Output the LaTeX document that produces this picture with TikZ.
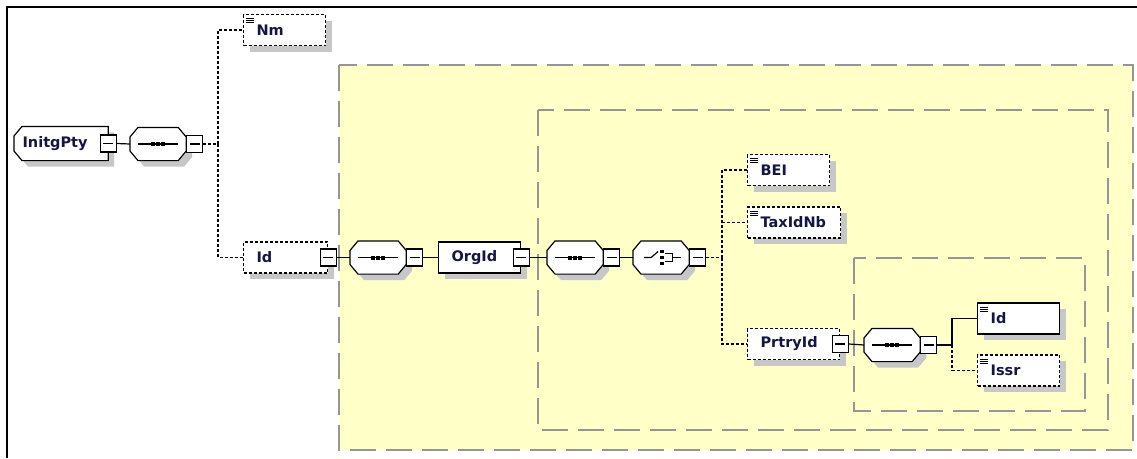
\documentclass[tikz,border=0pt]{standalone}
\usepackage{fontspec}
\setmainfont{DejaVu Sans}
\usepackage{tikz}
\usetikzlibrary{shadows}
\definecolor{schemafill}{RGB}{255,255,200}
\definecolor{groupline}{RGB}{150,150,150}
\definecolor{elemtext}{RGB}{20,20,70}

% box with cut corners (cut east=0pt keeps the east side square)
\pgfkeys{/pgf/cut west/.initial=8pt, /pgf/cut east/.initial=8pt}
\makeatletter
\pgfdeclareshape{cutbox}{%
	\inheritsavedanchors[from=rectangle]%
	\inheritanchorborder[from=rectangle]%
	\inheritanchor[from=rectangle]{center}%
	\inheritanchor[from=rectangle]{north}%
	\inheritanchor[from=rectangle]{south}%
	\inheritanchor[from=rectangle]{east}%
	\inheritanchor[from=rectangle]{west}%
	\inheritanchor[from=rectangle]{north east}%
	\inheritanchor[from=rectangle]{north west}%
	\inheritanchor[from=rectangle]{south east}%
	\inheritanchor[from=rectangle]{south west}%
	\inheritanchor[from=rectangle]{base}%
	\inheritanchor[from=rectangle]{mid}%
	\backgroundpath{%
		\southwest \edef\cbxa{\the\pgf@x}\edef\cbya{\the\pgf@y}%
		\northeast \edef\cbxb{\the\pgf@x}\edef\cbyb{\the\pgf@y}%
		\pgfmathsetmacro\cbw{\pgfkeysvalueof{/pgf/cut west}}%
		\pgfmathsetmacro\cbe{\pgfkeysvalueof{/pgf/cut east}}%
		\pgfpathmoveto{\pgfpoint{\cbxa+\cbw pt}{\cbya}}%
		\pgfpathlineto{\pgfpoint{\cbxb-\cbe pt}{\cbya}}%
		\pgfpathlineto{\pgfpoint{\cbxb}{\cbya+1.2*\cbe pt}}%
		\pgfpathlineto{\pgfpoint{\cbxb}{\cbyb-1.2*\cbe pt}}%
		\pgfpathlineto{\pgfpoint{\cbxb-\cbe pt}{\cbyb}}%
		\pgfpathlineto{\pgfpoint{\cbxa+\cbw pt}{\cbyb}}%
		\pgfpathlineto{\pgfpoint{\cbxa}{\cbyb-1.2*\cbw pt}}%
		\pgfpathlineto{\pgfpoint{\cbxa}{\cbya+1.2*\cbw pt}}%
		\pgfpathclose
	}%
}
\makeatother

\begin{document}
\begin{tikzpicture}[x=1pt,y=-1pt,line width=1.2pt,
	every node/.style={font=\bfseries\fontsize{14.5}{17}\selectfont, text=elemtext},
	shadowed/.style={drop shadow={shadow xshift=6pt,shadow yshift=-6pt,fill=black!22,opacity=1}},
	boxbase/.style={draw, fill=white, shadowed, rectangle, anchor=west, text width=#1,
		inner xsep=0pt, inner ysep=0pt, minimum height=31pt, align=left},
	elem/.style={boxbase=#1, execute at begin node=\hspace*{13pt}},
	root/.style={boxbase=#1, shape=cutbox, cut east=0pt, minimum height=33pt,
		execute at begin node=\hspace*{8pt}},
	opt/.style={dash pattern=on 3pt off 2pt},
	simple/.style={path picture={
		\foreach \dy in {4,6,8}
			\draw[solid,line width=0.8pt] ([shift={(2pt,-\dy pt)}]path picture bounding box.north west) -- ++(8pt,0pt);}},
	mbox/.style={draw, fill=white, minimum width=16pt, minimum height=17pt, inner sep=0pt,
		path picture={\draw ([xshift=3pt]path picture bounding box.west) -- ([xshift=-3pt]path picture bounding box.east);}},
	comp/.style={shape=cutbox, draw, fill=white, shadowed,
		minimum width=55pt, minimum height=32pt, inner sep=0pt, anchor=west},
	seqc/.style={comp, path picture={
		\begin{scope}[shift={(path picture bounding box.center)}]
			\draw (-20,0) -- (20,0);
			\foreach \d in {-5,0,5} \fill[black] (\d-2,-2) rectangle (\d+2,2);
		\end{scope}}},
	choicec/.style={comp, path picture={
		\begin{scope}[shift={(path picture bounding box.center)}]
			\draw (-17,0) -- (-10,0) -- (-3,-6);
			\foreach \v in {-6,0,6} \fill[black] (-1,\v-1.75) rectangle (2.5,\v+1.75);
			\draw (4,-4) -- (11,-4) -- (11,4) -- (4,4) (11,0) -- (20,0);
		\end{scope}}},
	grp/.style={draw=groupline, line width=1.5pt, dash pattern=on 26pt off 10pt}]

	\useasboundingbox (0,0) rectangle (1137,458);
	\draw[line width=2pt] (7,458) -- (7,7) -- (1137,7);

	% groups
	\draw[grp, fill=schemafill] (339,65) rectangle (1133,450);
	\draw[grp] (538,110) rectangle (1108,430);
	\draw[grp] (854,258) rectangle (1085,411);

	% root
	\node[root=93pt] (initg) at (14,143.5) {InitgPty};
	\node[mbox] (initgm) at (initg.east) {};
	\node[seqc] (seq1) at (130,144) {};
	\node[mbox, anchor=west] (seq1m) at (seq1.east) {};
	\coordinate (j1) at (218,144);
	\node[elem=82pt, opt, simple] (nm) at (243,30) {Nm};
	\node[elem=84pt, opt] (id) at (243,257.5) {Id};
	\node[mbox] (idm) at (id.east) {};

	% OrgId
	\node[seqc] (seq2) at (350,257.5) {};
	\node[mbox, anchor=west] (seq2m) at (seq2.east) {};
	\node[elem=82pt] (orgid) at (438,257.5) {OrgId};
	\node[mbox] (orgidm) at (orgid.east) {};
	\node[seqc] (seq3) at (547,257.5) {};
	\node[mbox, anchor=west] (seq3m) at (seq3.east) {};
	\node[choicec] (ch) at (633,257.5) {};
	\node[mbox, anchor=west] (chm) at (ch.east) {};
	\coordinate (j2) at (722,257.5);
	\node[elem=82pt, opt, simple] (bei) at (747,170) {BEI};
	\node[elem=93pt, opt, simple] (taxid) at (747,222.5) {TaxIdNb};
	\node[elem=92pt, opt] (prtry) at (747,344) {PrtryId};
	\node[mbox] (prtrym) at (prtry.east) {};

	% PrtryId
	\node[seqc] (seq4) at (864,345) {};
	\node[mbox, anchor=west] (seq4m) at (seq4.east) {};
	\coordinate (j3) at (952,345);
	\node[elem=82pt, simple] (id2) at (977,318.5) {Id};
	\node[elem=82pt, opt, simple] (issr) at (977,370.5) {Issr};

	% links
	\draw (initgm.east) -- (seq1.west);
	\draw[opt] (seq1m.east) -- (j1) |- (nm.west);
	\draw[opt] (j1) |- (id.west);
	\draw (idm.east) -- (seq2.west);
	\draw (seq2m.east) -- (orgid.west);
	\draw (orgidm.east) -- (seq3.west);
	\draw (seq3m.east) -- (ch.west);
	\draw[opt] (chm.east) -- (j2) |- (bei.west);
	\draw[opt] (j2) |- (taxid.west);
	\draw[opt] (j2) |- (prtry.west);
	\draw (prtrym.east) -- (seq4.west);
	\draw (seq4m.east) -- (j3) |- (id2.west);
	\draw[opt] (j3) |- (issr.west);
\end{tikzpicture}
\end{document}
